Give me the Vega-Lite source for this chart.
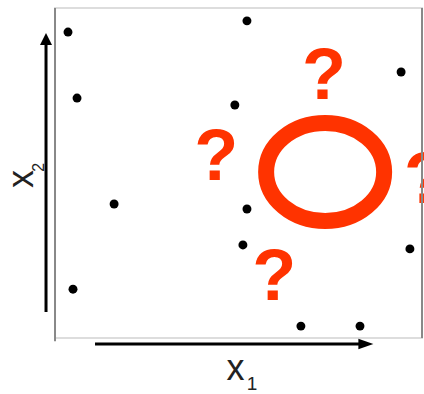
{
  "$schema": "https://vega.github.io/schema/vega-lite/v6.json",
  "width": 424,
  "height": 394,
  "autosize": {"type": "none"},
  "padding": 0,
  "background": "white",
  "config": {"view": {"stroke": null}},
  "encoding": {
    "x": {"field": "u", "type": "quantitative", "scale": {"domain": [-14.99, 100.54], "nice": false, "zero": false}, "axis": null},
    "y": {"field": "v", "type": "quantitative", "scale": {"domain": [-16.97, 102.42], "nice": false, "zero": false}, "axis": null}
  },
  "layer": [
    {
      "data": {"values": [
        {"u": 3.54, "v": 92.7}, {"u": 52.3, "v": 96.1}, {"u": 6.0, "v": 72.7},
        {"u": 94.3, "v": 80.6}, {"u": 49.0, "v": 70.6}, {"u": 16.1, "v": 40.6},
        {"u": 52.3, "v": 39.1}, {"u": 51.2, "v": 28.2}, {"u": 96.7, "v": 27.0},
        {"u": 4.9, "v": 14.8}, {"u": 67.0, "v": 3.6}, {"u": 83.1, "v": 3.6}
      ]},
      "mark": {"type": "point", "filled": true, "shape": "circle", "size": 80, "color": "black", "opacity": 1}
    },
    {
      "data": {"values": [{"u": 73.6, "v": 50.3}]},
      "mark": {"type": "point", "filled": false, "shape": "M -1 0 A 1 0.83 0 1 1 1 0 A 1 0.83 0 1 1 -1 0 Z", "size": 13924, "stroke": "#FF3300", "strokeWidth": 16, "opacity": 1}
    },
    {
      "data": {"values": [
        {"u": 73.3, "v": 72.4, "t": "?"}, {"u": 43.9, "v": 47.9, "t": "?"},
        {"u": 59.7, "v": 11.5, "t": "?"}, {"u": 101.1, "v": 40.9, "t": "?"}
      ]},
      "mark": {"type": "text", "font": "Liberation Sans", "fontWeight": "bold", "fontSize": 72, "color": "#FF3300", "align": "center", "baseline": "alphabetic"},
      "encoding": {"text": {"field": "t"}}
    },
    {
      "data": {"values": [{"u": 0, "v": 0, "u2": 100, "v2": 100}]},
      "mark": {"type": "rect", "fill": null, "stroke": "#dddddd", "strokeWidth": 2},
      "encoding": {"x2": {"field": "u2"}, "y2": {"field": "v2"}}
    },
    {
      "data": {"values": [{"u": 0, "v": -1, "v2": 100}, {"u": 100, "v": 0, "v2": 100}]},
      "mark": {"type": "rule", "stroke": "#888888", "strokeWidth": 2},
      "encoding": {"y2": {"field": "v2"}}
    },
    {
      "data": {"values": [{"u": -2.45, "v": 7.9, "u2": -2.45, "v2": 89.1}, {"u": 10.9, "v": -1.8, "u2": 83.7, "v2": -1.8}]},
      "mark": {"type": "rule", "stroke": "black", "strokeWidth": 3},
      "encoding": {"x2": {"field": "u2"}, "y2": {"field": "v2"}}
    },
    {
      "data": {"values": [{"u": -2.45, "v": 90.6}]},
      "mark": {"type": "point", "filled": true, "shape": "M -1 1 L 0 -1 L 1 1 Z", "size": 144, "color": "black", "opacity": 1}
    },
    {
      "data": {"values": [{"u": 84.7, "v": -1.8}]},
      "mark": {"type": "point", "filled": true, "shape": "M -1 -0.7 L 1 0 L -1 0.7 Z", "size": 225, "color": "black", "opacity": 1}
    },
    {
      "data": {"values": [{"u": 49.2, "v": -12.7, "t": "x"}]},
      "mark": {"type": "text", "font": "Liberation Sans", "fontSize": 36, "color": "#222222", "align": "center", "baseline": "alphabetic"},
      "encoding": {"text": {"field": "t"}}
    },
    {
      "data": {"values": [{"u": 53.7, "v": -15.9, "t": "1"}]},
      "mark": {"type": "text", "font": "Liberation Sans", "fontSize": 19, "color": "#222222", "align": "center", "baseline": "alphabetic"},
      "encoding": {"text": {"field": "t"}}
    },
    {
      "data": {"values": [{"u": -6.0, "v": 48.2, "t": "x"}]},
      "mark": {"type": "text", "font": "Liberation Sans", "fontSize": 36, "color": "#222222", "align": "center", "baseline": "alphabetic", "angle": 270},
      "encoding": {"text": {"field": "t"}}
    },
    {
      "data": {"values": [{"u": -3.0, "v": 51.7, "t": "2"}]},
      "mark": {"type": "text", "font": "Liberation Sans", "fontSize": 16, "color": "#222222", "align": "center", "baseline": "alphabetic", "angle": 270},
      "encoding": {"text": {"field": "t"}}
    }
  ]
}
